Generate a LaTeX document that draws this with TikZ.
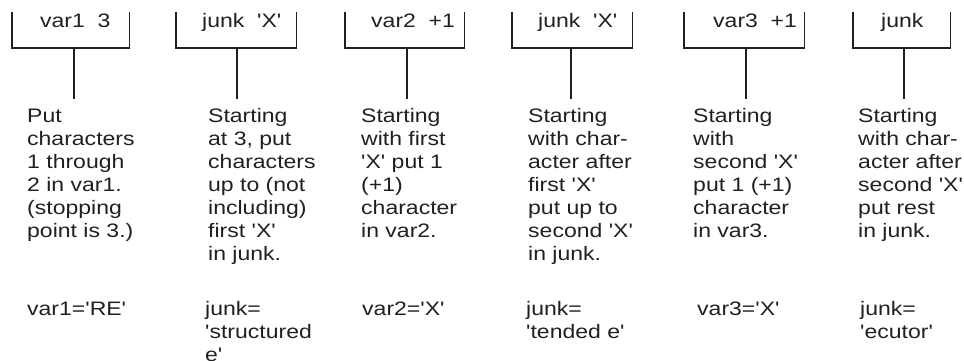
\documentclass[tikz,border=0pt]{standalone}
\usepackage{fontspec}
\newfontfamily\arial{Liberation Sans}[FakeStretch=1.18]
\newcommand\lns[1]{\begin{tabular}[t]{@{}l@{}}#1\end{tabular}}
\definecolor{ink}{HTML}{231F20}
\tikzset{
  txt/.style={font=\arial\fontsize{19.5}{23}\selectfont, text=ink, inner sep=0pt, anchor=base west},
  bracketbox/.style={inner sep=0pt, anchor=south west},
  ln/.style={draw=ink, line width=1.2pt}
}
\begin{document}
\begin{tikzpicture}[x=1pt,y=-1pt]
\useasboundingbox (0,0) rectangle (964,360);
\clip (0,0) rectangle (964,360);
% bracket boxes
\node[bracketbox, minimum width=117pt, minimum height=36pt] (b1) at (12,48) {};
\node[bracketbox, minimum width=120pt, minimum height=36pt] (b2) at (176,48) {};
\node[bracketbox, minimum width=119pt, minimum height=36pt] (b3) at (345,48) {};
\node[bracketbox, minimum width=120pt, minimum height=36pt] (b4) at (512,48) {};
\node[bracketbox, minimum width=120pt, minimum height=36pt] (b5) at (684,48) {};
\node[bracketbox, minimum width=97pt, minimum height=36pt] (b6) at (853,48) {};
\foreach \b in {b1,b2,b3,b4,b5,b6}
  \draw[ln] (\b.north west) |- (\b.south east) -- (\b.north east);
% labels
\node[txt] (l1) at (40,27) {var1\ \ 3};
\node[txt] (l2) at (202,27) {junk\ \ 'X'};
\node[txt] (l3) at (371,27) {var2\ \ +1};
\node[txt] (l4) at (538,27) {junk\ \ 'X'};
\node[txt] (l5) at (713,27) {var3\ \ +1};
\node[txt] (l6) at (881,27) {junk};
% stems
\coordinate (s1) at (74,99);
\coordinate (s2) at (237,99);
\coordinate (s3) at (407,99);
\coordinate (s4) at (571,99);
\coordinate (s5) at (746,99);
\coordinate (s6) at (904,99);
\draw[ln] (b1.south -| s1) -- (s1);
\draw[ln] (b2.south -| s2) -- (s2);
\draw[ln] (b3.south -| s3) -- (s3);
\draw[ln] (b4.south -| s4) -- (s4);
\draw[ln] (b5.south -| s5) -- (s5);
\draw[ln] (b6.south -| s6) -- (s6);
% descriptions
\node[txt] (d1) at (27,122) {\lns{Put\\characters\\1 through\\2 in var1.\\(stopping\\point is 3.)}};
\node[txt] (d2) at (208,122) {\lns{Starting\\at 3, put\\characters\\up to (not\\including)\\first 'X'\\in junk.}};
\node[txt] (d3) at (361,122) {\lns{Starting\\with first\\'X' put 1\\(+1)\\character\\in var2.}};
\node[txt] (d4) at (528,122) {\lns{Starting\\with char-\\acter after\\first 'X'\\put up to\\second 'X'\\in junk.}};
\node[txt] (d5) at (693,122) {\lns{Starting\\with\\second 'X'\\put 1 (+1)\\character\\in var3.}};
\node[txt] (d6) at (858,122) {\lns{Starting\\with char-\\acter after\\second 'X'\\put rest\\in junk.}};
% results
\node[txt] (r1) at (27,315) {var1='RE'};
\node[txt] (r2) at (205,315) {\lns{junk=\\'structured\\e'}};
\node[txt] (r3) at (362,315) {var2='X'};
\node[txt] (r4) at (526,315) {\lns{junk=\\'tended e'}};
\node[txt] (r5) at (697,315) {var3='X'};
\node[txt] (r6) at (860,315) {\lns{junk=\\'ecutor'}};
\end{tikzpicture}
\end{document}
